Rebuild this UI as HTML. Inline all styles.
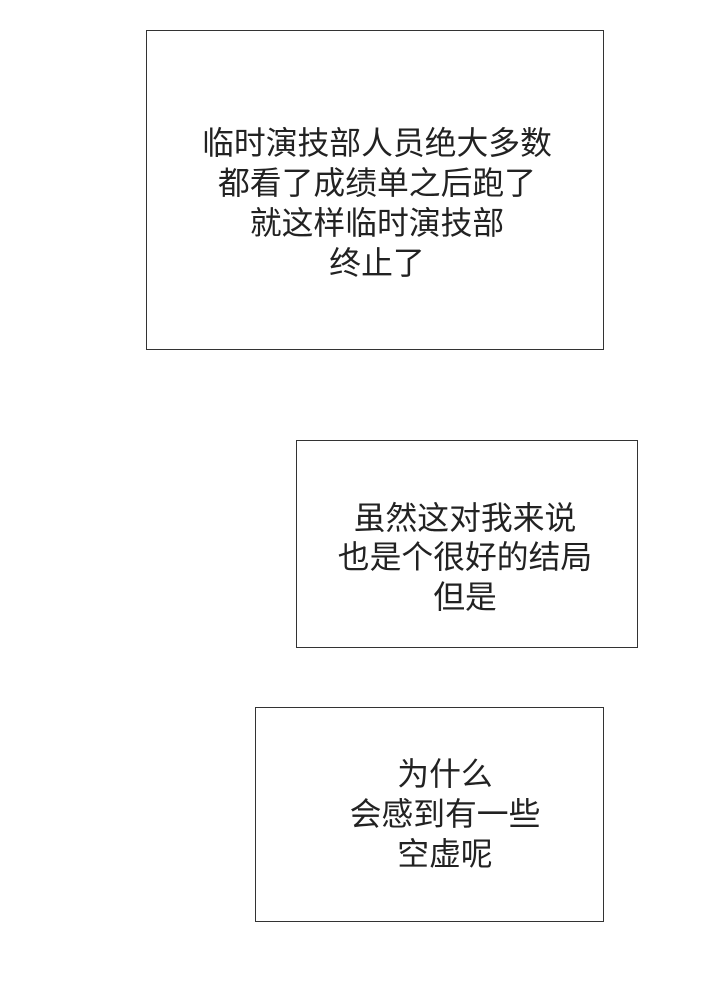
<!DOCTYPE html>
<html><head><meta charset="utf-8"><style>
html,body{margin:0;padding:0;background:#fff;}
body{width:720px;height:991px;position:relative;overflow:hidden;font-family:"Liberation Sans","Noto Sans CJK SC",sans-serif;color:#222;}
.b{position:absolute;border:1.5px solid #333;box-sizing:border-box;}
.t{position:absolute;font-size:31.8px;line-height:40px;white-space:nowrap;transform:translateX(-50%);text-align:center;}
</style></head><body>
<div class="b" style="left:146px;top:30px;width:458px;height:320px"></div>
<div class="t" style="left:377px;top:123px">临时演技部人员绝大多数</div>
<div class="t" style="left:377px;top:163px">都看了成绩单之后跑了</div>
<div class="t" style="left:377px;top:203px">就这样临时演技部</div>
<div class="t" style="left:377px;top:243px">终止了</div>

<div class="b" style="left:296px;top:440px;width:342px;height:208px"></div>
<div class="t" style="left:465px;top:498px">虽然这对我来说</div>
<div class="t" style="left:465px;top:537px">也是个很好的结局</div>
<div class="t" style="left:465px;top:577px">但是</div>

<div class="b" style="left:255px;top:707px;width:349px;height:215px"></div>
<div class="t" style="left:445px;top:754px">为什么</div>
<div class="t" style="left:445px;top:794px">会感到有一些</div>
<div class="t" style="left:445px;top:834px">空虚呢</div>
</body></html>
